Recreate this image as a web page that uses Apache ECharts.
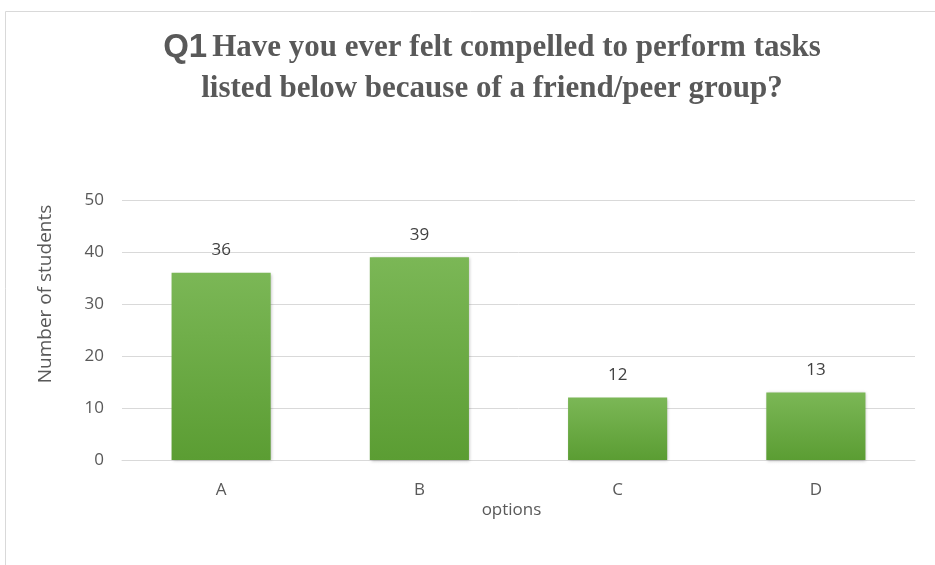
<!DOCTYPE html>
<html><head><meta charset="utf-8">
<script src="https://cdn.jsdelivr.net/npm/echarts@6/dist/echarts.min.js"></script>
<style>html,body{margin:0;padding:0;background:#fff}#c{width:935px;height:565px}</style>
</head><body><div id="c"></div>
<script>
const categories = ['A', 'B', 'C', 'D'];
const values = [36, 39, 12, 13];
const yTicks = [0, 10, 20, 30, 40, 50];

const chart = echarts.init(document.getElementById('c'));
chart.setOption({
  backgroundColor: '#fff',
  animation: false,
  graphic: [{
    type: 'rect', shape: {x: 5.5, y: 11.5, width: 940, height: 570},
    style: {fill: 'none', stroke: '#d9d9d9', lineWidth: 1}, silent: true
  }],
  title: {
    text: '{q|Q1} {t|Have you ever felt compelled to perform tasks}\n{t|listed below because of a friend/peer group?}',
    left: 487, top: 22, textAlign: 'center',
    textStyle: {
      rich: {
        q: {fontFamily: 'Liberation Sans', fontWeight: 'bold', fontSize: 33, color: '#595959', lineHeight: 41},
        t: {fontFamily: 'Liberation Serif', fontWeight: 'bold', fontSize: 31, color: '#595959', lineHeight: 41}
      }
    }
  },
  grid: {left: 122, right: 20, top: 200, bottom: 105, containLabel: false},
  xAxis: {
    type: 'category', data: categories,
    name: 'options', nameLocation: 'middle', nameGap: 42,
    nameTextStyle: {fontFamily: 'Open Sans', fontSize: 17, color: '#595959', padding: [0, 14, 0, 0]},
    axisLine: {lineStyle: {color: '#d9d9d9', width: 1}},
    axisTick: {show: false},
    axisLabel: {fontFamily: 'Open Sans', fontSize: 17, color: '#595959', margin: 22}
  },
  yAxis: {
    type: 'value', min: yTicks[0], max: yTicks[yTicks.length - 1], interval: 10,
    name: 'Number of students', nameLocation: 'middle', nameGap: 67, nameRotate: 90,
    nameTextStyle: {fontFamily: 'Open Sans', fontSize: 19, color: '#595959', padding: [0, 0, 0, 72]},
    axisLine: {show: false}, axisTick: {show: false},
    axisLabel: {fontFamily: 'Open Sans', fontSize: 17, color: '#595959', margin: 18},
    splitLine: {lineStyle: {color: '#d9d9d9', width: 1}}
  },
  series: [{
    type: 'bar', data: values, barWidth: '50%',
    itemStyle: {
      color: new echarts.graphic.LinearGradient(0, 0, 0, 1, [
        {offset: 0, color: '#7bb756'}, {offset: 1, color: '#5b9d33'}
      ]),
      shadowColor: 'rgba(0,0,0,0.25)', shadowBlur: 3, shadowOffsetX: 1, shadowOffsetY: 1
    },
    label: {show: true, position: 'top', distance: 14, fontFamily: 'Open Sans', fontSize: 17, color: '#404040'}
  }]
});
</script></body></html>
